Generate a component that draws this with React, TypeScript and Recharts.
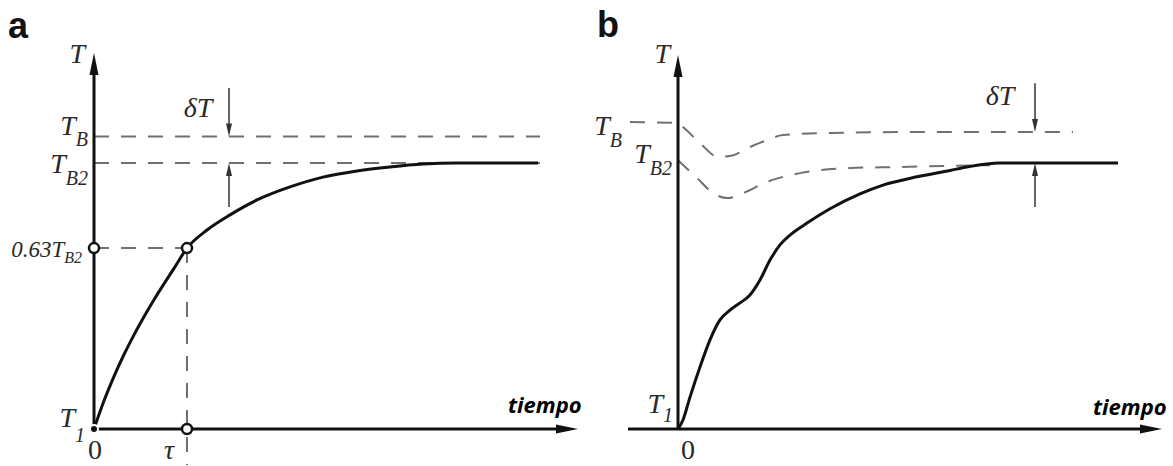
import React from "react";
import { ComposedChart, Line, XAxis, YAxis, ReferenceLine, ReferenceDot } from "recharts";

// time in arbitrary units, temperature as % of the rise T1 -> TB2

// panel a: first-order response
const timeA = [0, 0.2, 0.4, 0.6, 0.8, 1.0, 1.2, 1.4, 1.6, 1.86, 2.26, 2.72, 3.26, 3.92, 4.58, 5.26, 5.92, 6.58, 7.26, 8.88];
const tempA = [0, 10.6, 19.8, 28, 35.4, 42.2, 48.6, 54.6, 60.4, 68, 74.8, 80.5, 86.1, 91, 94.7, 97, 98.5, 99.6, 100, 100];
const levelTB = 110;
const levelTB2 = 100;
const level063 = 68;
const tau = 1.86;
const levelEndA = 8.92;
const deltaAtA = 2.7;

// panel b: response with a dipping reference
const timeB = [0, 0.1, 0.24, 0.44, 0.64, 0.84, 1.04, 1.24, 1.44, 1.64, 1.84, 2.04, 2.24, 2.58, 3.04, 3.64, 4.1, 4.78, 5.44, 5.78, 6.44, 8.8];
const tempB = [0, 3.4, 12, 23.3, 33.5, 41, 44.7, 47.4, 50.4, 56, 63.5, 69.2, 72.9, 77.4, 82.8, 88.4, 91.7, 94.8, 97.2, 98.5, 100, 100];
const timeTB = [-0.96, 0, 0.1, 0.44, 0.8, 1.04, 1.44, 1.78, 2.1, 3.1, 5.1, 7.9];
const tempTB = [115.4, 115, 113.5, 107.5, 102.3, 102.6, 106, 108.6, 110.5, 111.3, 111.7, 111.7];
const timeTB2 = [0, 0.38, 0.7, 1.0, 1.3, 1.78, 2.44, 3.44, 4.44, 5.44, 6.24];
const tempTB2 = [101, 94.4, 88.7, 86.8, 88.7, 92.9, 96.2, 98.1, 98.5, 98.9, 99.2];
const levelTBb = 111.7;
const deltaAtB = 7.14;

// axes extents
const xTip = 9.68;
const yTipA = 141.4;
const yTipB = 140.6;
const xStartB = -1.0;
const domainXA = [-1.88, 9.92];
const domainXB = [-1.76, 9.9];
const domainY = [-13.91, 161.28];

const zip = (t: number[], v: number[]) => t.map((x, i) => ({ t: x, T: v[i] }));
const curveA = zip(timeA, tempA);
const curveB = zip(timeB, tempB);
const curveTB = zip(timeTB, tempTB);
const curveTB2 = zip(timeTB2, tempTB2);

const INK = "#111";
const DASH = "#707070";
const NOTE = "#2a2a2a";
const H = 466;

function arrow(len: number, half: number, color: string, width: number) {
  return (p: any) => {
    const { x1, y1, x2, y2 } = p;
    const dx = x2 - x1;
    const dy = y2 - y1;
    const d = Math.hypot(dx, dy) || 1;
    const ux = dx / d;
    const uy = dy / d;
    const bx = x2 - ux * len;
    const by = y2 - uy * len;
    const px = -uy * half;
    const py = ux * half;
    return (
      <g>
        <line x1={x1} y1={y1} x2={bx + ux * 3} y2={by + uy * 3} stroke={color} strokeWidth={width} />
        <path d={`M${x2},${y2} L${bx + px},${by + py} L${bx - px},${by - py} Z`} fill={color} />
      </g>
    );
  };
}

type LabelOpts = { sub?: string; anchor?: "start" | "middle" | "end"; size?: number; subSize?: number; subDy?: number; italic?: boolean };

function label(main: string, o: LabelOpts = {}) {
  const { sub, anchor = "end", size = 28, subSize = 20, subDy = 11, italic = true } = o;
  return (p: any) => (
    <text
      x={p.cx}
      y={p.cy}
      textAnchor={anchor}
      fontFamily="'Liberation Serif', 'DejaVu Serif', serif"
      fontStyle={italic ? "italic" : "normal"}
      fontSize={size}
      fill={NOTE}
    >
      {main}
      {sub ? (
        <tspan fontSize={subSize} dy={subDy}>
          {sub}
        </tspan>
      ) : null}
    </text>
  );
}

const tiempo = (p: any) => (
  <text
    x={p.cx}
    y={p.cy}
    fontFamily="'Open Sans', 'Liberation Sans', sans-serif"
    fontStyle="italic"
    fontWeight={700}
    fontSize={22}
    fill="#000"
  >
    tiempo
  </text>
);

const ring = (p: any) => <circle cx={p.cx} cy={p.cy} r={5} fill="#fff" stroke={INK} strokeWidth={2.5} />;

const axisArrow = arrow(22, 4.5, INK, 3);
const noteArrow = arrow(13, 3, "#333", 1.5);

function PanelA() {
  return (
    <ComposedChart width={590} height={H} margin={{ top: 0, right: 0, bottom: 0, left: 0 }}>
      <XAxis type="number" dataKey="t" domain={domainXA} allowDataOverflow hide />
      <YAxis type="number" dataKey="T" domain={domainY} allowDataOverflow hide />

      <ReferenceLine segment={[{ x: 0, y: levelTB }, { x: levelEndA, y: levelTB }]} stroke={DASH} strokeWidth={2} strokeDasharray="15 12" />
      <ReferenceLine segment={[{ x: 0, y: levelTB2 }, { x: levelEndA, y: levelTB2 }]} stroke={DASH} strokeWidth={2} strokeDasharray="15 12" />
      <ReferenceLine segment={[{ x: 0, y: level063 }, { x: tau, y: level063 }]} stroke={DASH} strokeWidth={2} strokeDasharray="15 12" />
      <ReferenceLine segment={[{ x: tau, y: level063 }, { x: tau, y: -13.5 }]} stroke={DASH} strokeWidth={2} strokeDasharray="15 12" />

      <ReferenceLine segment={[{ x: deltaAtA, y: 128.2 }, { x: deltaAtA, y: levelTB }]} shape={noteArrow} />
      <ReferenceLine segment={[{ x: deltaAtA, y: 83.5 }, { x: deltaAtA, y: levelTB2 }]} shape={noteArrow} />

      <ReferenceLine segment={[{ x: 0, y: 0 }, { x: 0, y: yTipA }]} shape={axisArrow} />
      <ReferenceLine segment={[{ x: 0, y: 0 }, { x: xTip, y: 0 }]} shape={axisArrow} />

      <Line data={curveA} dataKey="T" type="monotone" stroke={INK} strokeWidth={3} dot={false} isAnimationActive={false} />

      <ReferenceDot x={0} y={level063} shape={ring} />
      <ReferenceDot x={tau} y={level063} shape={ring} />
      <ReferenceDot x={tau} y={0} shape={ring} />

      <ReferenceDot x={-0.18} y={137.6} shape={label("T")} />
      <ReferenceDot x={-0.12} y={110.5} shape={label("T", { sub: "B", subDy: 11 })} />
      <ReferenceDot x={-0.12} y={96.2} shape={label("T", { sub: "B2", subDy: 12 })} />
      <ReferenceDot x={-0.24} y={64.7} shape={label("0.63T", { sub: "B2", size: 23, subSize: 16, subDy: 6 })} />
      <ReferenceDot x={-0.18} y={0.75} shape={label("T", { sub: "1", subDy: 15 })} />
      <ReferenceDot x={0.02} y={-11.3} shape={label("0", { anchor: "middle", italic: false, size: 28 })} />
      <ReferenceDot x={1.5} y={-11.3} shape={label("τ", { anchor: "middle" })} />
      <ReferenceDot x={2.08} y={117.3} shape={label("δT", { anchor: "middle" })} />
      <ReferenceDot x={8.28} y={6} shape={tiempo} />
    </ComposedChart>
  );
}

function PanelB() {
  return (
    <ComposedChart width={583} height={H} margin={{ top: 0, right: 0, bottom: 0, left: 0 }}>
      <XAxis type="number" dataKey="t" domain={domainXB} allowDataOverflow hide />
      <YAxis type="number" dataKey="T" domain={domainY} allowDataOverflow hide />

      <Line data={curveTB} dataKey="T" type="monotone" stroke={DASH} strokeWidth={2} strokeDasharray="15 12" dot={false} isAnimationActive={false} />
      <Line data={curveTB2} dataKey="T" type="monotone" stroke={DASH} strokeWidth={2} strokeDasharray="15 12" dot={false} isAnimationActive={false} />

      <ReferenceLine segment={[{ x: deltaAtB, y: 130 }, { x: deltaAtB, y: levelTBb }]} shape={noteArrow} />
      <ReferenceLine segment={[{ x: deltaAtB, y: 83.5 }, { x: deltaAtB, y: levelTB2 }]} shape={noteArrow} />

      <ReferenceLine segment={[{ x: 0, y: 0 }, { x: 0, y: yTipB }]} shape={axisArrow} />
      <ReferenceLine segment={[{ x: xStartB, y: 0 }, { x: xTip, y: 0 }]} shape={axisArrow} />

      <Line data={curveB} dataKey="T" type="monotone" stroke={INK} strokeWidth={3} dot={false} isAnimationActive={false} />

      <ReferenceDot x={-0.16} y={137.6} shape={label("T")} />
      <ReferenceDot x={-1.12} y={110.5} shape={label("T", { sub: "B", subDy: 12 })} />
      <ReferenceDot x={-0.12} y={100} shape={label("T", { sub: "B2", subDy: 12 })} />
      <ReferenceDot x={-0.1} y={6} shape={label("T", { sub: "1", subDy: 9 })} />
      <ReferenceDot x={0.2} y={-11.3} shape={label("0", { anchor: "middle", italic: false, size: 28 })} />
      <ReferenceDot x={6.44} y={121.8} shape={label("δT", { anchor: "middle" })} />
      <ReferenceDot x={8.3} y={5.3} shape={tiempo} />
    </ComposedChart>
  );
}

export default function App() {
  return (
    <div style={{ position: "fixed", left: 0, top: 0, width: 1173, height: H, background: "#fff", overflow: "hidden" }}>
      <div style={{ position: "absolute", left: 0, top: 0 }}>
        <PanelA />
      </div>
      <div style={{ position: "absolute", left: 590, top: 0 }}>
        <PanelB />
      </div>
      <svg width={1173} height={60} style={{ position: "absolute", left: 0, top: 0, pointerEvents: "none" }}>
        <text x={8} y={38} fontFamily="'Liberation Sans', Arial, sans-serif" fontWeight={700} fontSize={36} fill="#111">
          a
        </text>
        <text x={597} y={37} fontFamily="'Liberation Sans', Arial, sans-serif" fontWeight={700} fontSize={36} fill="#111">
          b
        </text>
      </svg>
    </div>
  );
}
